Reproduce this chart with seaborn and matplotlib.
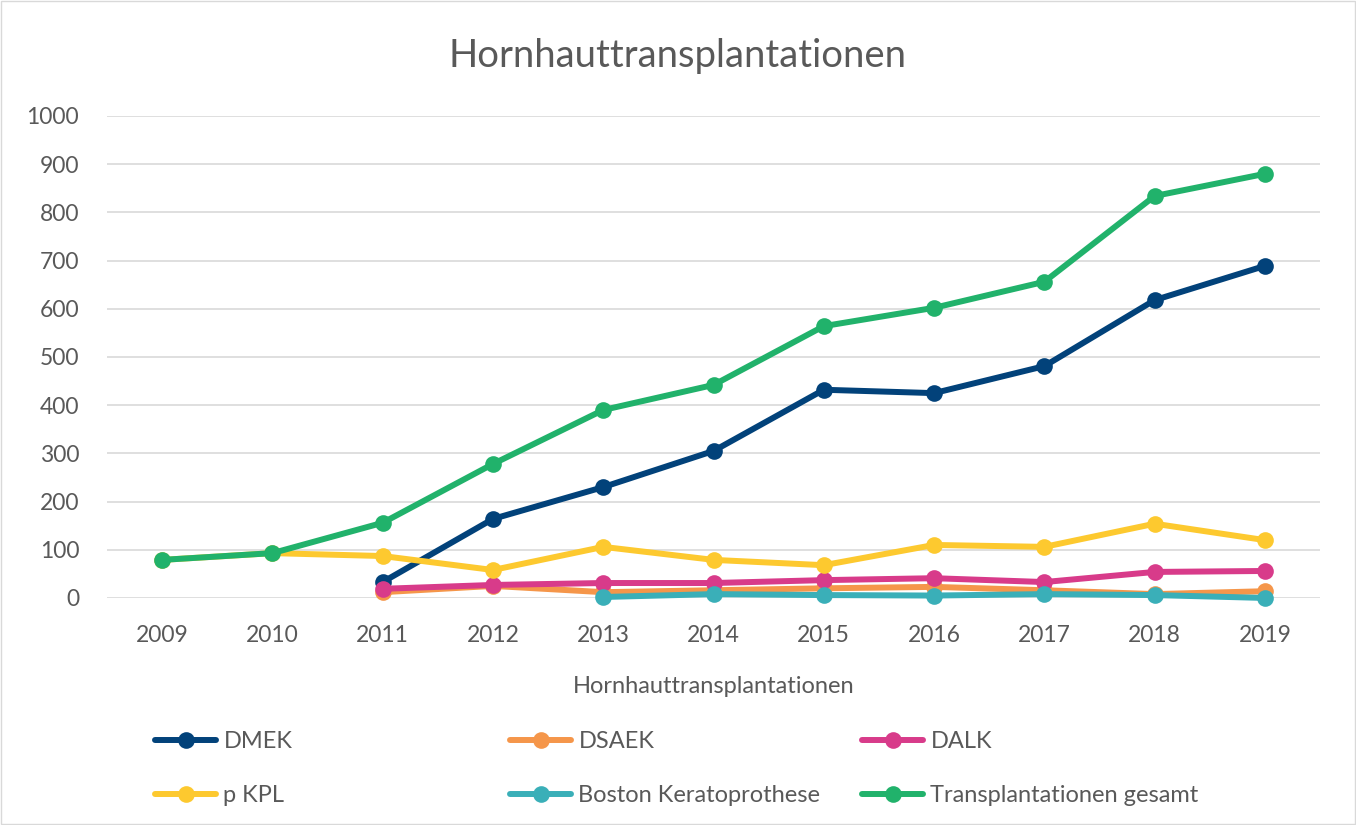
import numpy as np
import pandas as pd
import seaborn as sns
from matplotlib import pyplot as plt
from matplotlib.patches import Rectangle

## Daten ##

jahre = [2009, 2010, 2011, 2012, 2013, 2014, 2015, 2016, 2017, 2018, 2019]
nan = np.nan
dmek = [nan, nan, 33, 164, 230, 305, 432, 425, 481, 618, 689]
dsaek = [nan, nan, 12, 25, 12, 16, 20, 23, 16, 8, 14]
dalk = [nan, nan, 19, 27, 31, 31, 37, 41, 33, 54, 56]
p_kpl = [79, 93, 87, 58, 106, 79, 68, 110, 106, 154, 120]
boston = [nan, nan, nan, nan, 2, 8, 6, 5, 8, 6, 0]
gesamt = [79, 93, 156, 278, 390, 442, 564, 602, 656, 834, 880]

serien = ['DMEK', 'DSAEK', 'DALK', 'p KPL', 'Boston Keratoprothese', 'Transplantationen gesamt']
farben = ['#02427A', '#F5964A', '#D83B8A', '#FDC92F', '#3AAFB8', '#21B26B']

df = pd.DataFrame({'Jahr': jahre, 'DMEK': dmek, 'DSAEK': dsaek, 'DALK': dalk,
                   'p KPL': p_kpl, 'Boston Keratoprothese': boston,
                   'Transplantationen gesamt': gesamt})
df_long = df.melt(id_vars='Jahr', var_name='Serie', value_name='Anzahl').dropna()

## Plot ##

sns.set_style('white')
plt.rcParams['font.family'] = ['Lato', 'DejaVu Sans']
grau = '#595959'

fig = plt.figure(figsize=(13.56, 8.25), dpi=100)
ax = fig.add_axes([0.0789, 0.2752, 0.8946, 0.5842])

sns.lineplot(data=df_long, x='Jahr', y='Anzahl', hue='Serie', hue_order=serien,
             palette=farben, marker='o', markersize=12, markeredgewidth=0,
             linewidth=4.3, clip_on=False, ax=ax)

ax.set_xlim(2008.5, 2019.5)
ax.set_ylim(0, 1000)
ax.set_xticks(jahre)
ax.set_yticks(range(0, 1001, 100))
ax.tick_params(axis='both', length=0, labelsize=16.5, labelcolor=grau)
ax.tick_params(axis='y', pad=20)
ax.tick_params(axis='x', pad=19.5)
ax.grid(axis='y', color='#d9d9d9', linewidth=1.2)
ax.set_axisbelow(True)
for s in ax.spines.values():
    s.set_visible(False)
ax.set_ylabel('')
ax.set_xlabel('Hornhauttransplantationen', fontsize=17, color=grau, labelpad=21.5)

fig.suptitle('Hornhauttransplantationen', y=0.954, fontsize=27.5, color=grau)

handles, labels = ax.get_legend_handles_labels()
ax.get_legend().remove()
spalten_x = [155, 510, 862]
for i, x0 in enumerate(spalten_x):
    leg = fig.legend([handles[i], handles[i + 3]], [labels[i], labels[i + 3]],
                     loc='upper left', bbox_to_anchor=(x0 / 1356, 1 - 731 / 825),
                     frameon=False, fontsize=17, handlelength=2.6, handletextpad=0.3,
                     labelspacing=1.4, borderpad=0, borderaxespad=0)
    for t in leg.get_texts():
        t.set_color(grau)

fig.patches.append(Rectangle((0.001, 0.001), 0.998, 0.998, transform=fig.transFigure,
                             fill=False, edgecolor='#d9d9d9', linewidth=1))

fig.savefig('out.png', dpi=100)
